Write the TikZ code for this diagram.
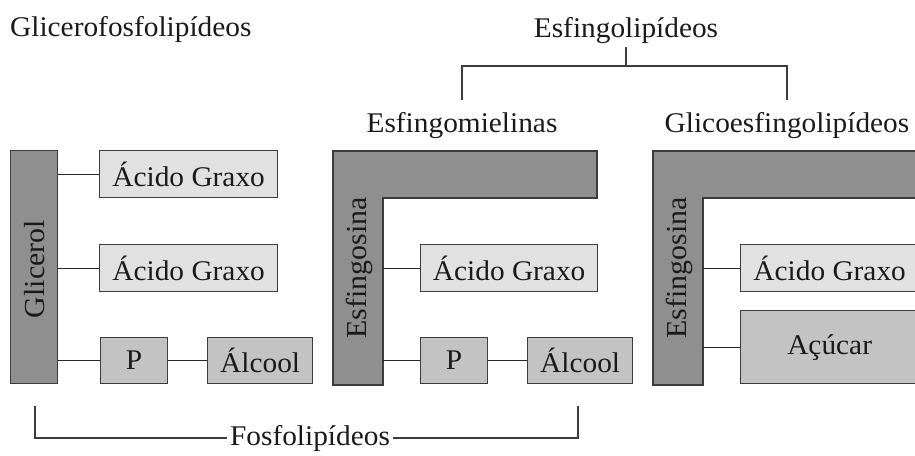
\documentclass[tikz,border=0pt]{standalone}
\usepackage{fontspec}
\setmainfont[FakeStretch=1.03]{Liberation Serif}
\definecolor{ink}{HTML}{1A1A1A}
\definecolor{edge}{HTML}{3C3C3C}
\definecolor{boxdark}{HTML}{8F8F8F}
\definecolor{boxlight}{HTML}{E1E1E1}
\definecolor{boxmid}{HTML}{C3C3C3}
\begin{document}
\begin{tikzpicture}[x=1pt,y=-1pt,
  every node/.style={text=ink, font=\fontsize{28.5}{33}\selectfont},
  shp/.style={draw=edge, line width=1.3pt, inner sep=0pt, anchor=north west},
  lightbox/.style={shp, fill=boxlight, minimum width=178pt, minimum height=47pt},
  midbox/.style={shp, fill=boxmid, minimum height=46pt},
  darkfill/.style={draw=edge, line width=1.3pt, fill=boxdark},
  barnode/.style={anchor=north west, inner sep=0pt, minimum width=50pt, minimum height=187pt},
  vtext/.style={rotate=90, font=\fontsize{29}{33}\selectfont, inner sep=0pt},
  conn/.style={draw=black!85, line width=1.2pt},
  brk/.style={draw=edge, line width=1.2pt},
  lbl/.style={inner sep=0pt}
]
\useasboundingbox (0,0) rectangle (915,455);
\fill[white] (0,0) rectangle (915,455);
\clip (0,0) rectangle (915,455);

% titles
\node[lbl, anchor=base west] (gfl) at (10,36) {Glicerofosfolipídeos};
\node[lbl, anchor=base] (esl) at (626,37) {Esfingolipídeos};
\node[lbl, anchor=base] (esm) at (462,132) {Esfingomielinas};
\node[lbl, anchor=base] (glc) at (787,132) {Glicoesfingolipídeos};
\coordinate (br) at (626,66);
\draw[brk] ([yshift=-4pt]esl.south) -- (br);
\draw[brk] ([yshift=12pt]esm.north) |- (br) -| ([yshift=12pt]glc.north);

% Glicerofosfolipideos
\node[shp, fill=boxdark, minimum width=47pt, minimum height=233pt] (gli) at (10,150) {};
\node[vtext] (glit) at ([yshift=-2pt]gli.center) {Glicerol};
\node[lightbox] (ag1) at (99,150) {Ácido Graxo};
\node[lightbox] (ag2) at (99,244) {Ácido Graxo};
\node[midbox, minimum width=67pt] (p1) at (100,337) {P};
\node[midbox, minimum width=105pt] (alc1) at (207,337) {Álcool};
\draw[conn] (gli.east |- ag1.west) -- (ag1.west);
\draw[conn] (gli.east |- ag2.west) -- (ag2.west);
\draw[conn] (gli.east |- p1.west) -- (p1.west);
\draw[conn] (p1.east) -- (alc1.west);

% Esfingomielinas
\draw[darkfill] (333,151) -- (597,151) -- (597,198) -- (383,198) -- (383,385) -- (333,385) -- cycle;
\node[barnode] (bar1) at (333,198) {};
\node[vtext] (esf1) at (359,268) {Esfingosina};
\node[lightbox, minimum width=177pt] (ag3) at (420,244) {Ácido Graxo};
\node[midbox, minimum width=67pt] (p2) at (420,337) {P};
\node[midbox, minimum width=105pt] (alc2) at (527,337) {Álcool};
\draw[conn] (bar1.east |- ag3.west) -- (ag3.west);
\draw[conn] (bar1.east |- p2.west) -- (p2.west);
\draw[conn] (p2.east) -- (alc2.west);

% Glicoesfingolipideos
\draw[darkfill] (653,151) -- (925,151) -- (925,198) -- (703,198) -- (703,385) -- (653,385) -- cycle;
\node[barnode] (bar2) at (653,198) {};
\node[vtext] (esf2) at (679,268) {Esfingosina};
\node[lightbox] (ag4) at (740,244) {Ácido Graxo};
\node[shp, fill=boxmid, minimum width=178pt, minimum height=73pt] (acu) at (740,310) {Açúcar};
\draw[conn] (bar2.east |- ag4.west) -- (ag4.west);
\draw[conn] (bar2.east |- acu.west) -- (acu.west);

% Fosfolipideos
\node[lbl, inner sep=3pt] (fos) at (310,438) {Fosfolipídeos};
\coordinate (fl) at (35,406);
\coordinate (fr) at (578,406);
\draw[brk] (fos.west) -| (fl);
\draw[brk] (fos.east) -| (fr);
\end{tikzpicture}
\end{document}
